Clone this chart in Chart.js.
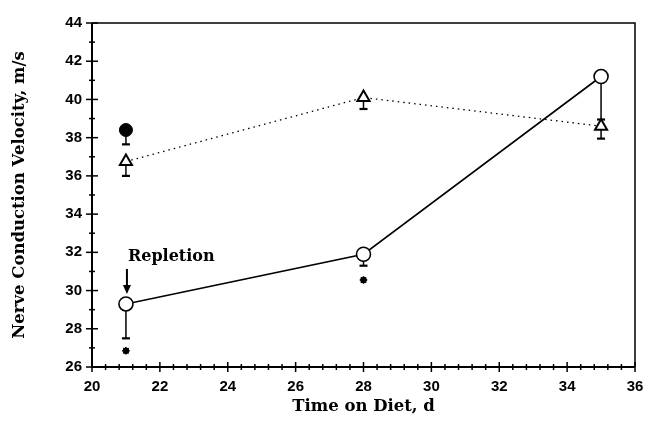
<!DOCTYPE html>
<html>
<head>
<meta charset="utf-8">
<script src="https://cdn.jsdelivr.net/npm/chart.js@4/dist/chart.umd.min.js"></script>
<style>
html,body{margin:0;padding:0;background:#fff;}
#wrap{width:648px;height:438px;position:relative;}
</style>
</head>
<body>
<div id="wrap"><canvas id="c" width="648" height="438"></canvas></div>
<script>
// ---- data ----
const days = [21, 28, 35];
const repletionValues = [29.3, 31.9, 41.2];      // open circles, solid line
const repletionLow = [27.5, 31.3, 38.95];        // lower error bar ends
const controlValues = [36.75, 40.1, 38.6];       // open triangles, dotted line
const controlLow = [36.0, 39.5, 37.95];
const baselineDay = [21];
const baselineValue = [38.4];                    // filled circle
const baselineLow = [37.65];
const starDays = [21, 28];
const starValues = [26.85, 30.55];               // asterisks (significance)
const xTicks = [20, 22, 24, 26, 28, 30, 32, 34, 36];
const yTicks = [26, 28, 30, 32, 34, 36, 38, 40, 42, 44];
const annotationText = 'Repletion';

const toPts = (xs, ys) => xs.map((x, i) => ({x: x, y: ys[i]}));

const serif = '"DejaVu Serif", serif';
const sans = '"Liberation Sans", Arial, sans-serif';

const decor = {
  id: 'decor',
  beforeDatasetsDraw(chart) {
    const {ctx, scales: {x, y}} = chart;
    ctx.save();
    ctx.strokeStyle = '#000';
    const bars = [[days, repletionValues, repletionLow], [days, controlValues, controlLow], [baselineDay, baselineValue, baselineLow]];
    bars.forEach(([xs, vs, lows]) => {
      xs.forEach((d, i) => {
        const px = x.getPixelForValue(d);
        const p0 = y.getPixelForValue(vs[i]);
        const p1 = y.getPixelForValue(lows[i]);
        ctx.lineWidth = 1.5;
        ctx.beginPath();
        ctx.moveTo(px, p0); ctx.lineTo(px, p1);
        ctx.stroke();
        ctx.lineWidth = 2.2;
        ctx.beginPath();
        ctx.moveTo(px - 4, p1); ctx.lineTo(px + 4, p1);
        ctx.stroke();
      });
    });
    ctx.restore();
  },
  afterDraw(chart) {
    const {ctx, chartArea: a, scales: {x, y}} = chart;
    ctx.save();
    ctx.strokeStyle = '#000';
    // frame
    ctx.lineWidth = 1.5;
    ctx.beginPath();
    ctx.moveTo(a.left, a.top); ctx.lineTo(a.right, a.top); ctx.lineTo(a.right, a.bottom);
    ctx.stroke();
    ctx.lineWidth = 2;
    ctx.beginPath();
    ctx.moveTo(a.left, a.top); ctx.lineTo(a.left, a.bottom); ctx.lineTo(a.right, a.bottom);
    ctx.stroke();
    // x ticks
    ctx.lineWidth = 1.5;
    for (let v = x.min; v <= x.max + 1e-6; v += 0.4) {
      const px = x.getPixelForValue(v);
      const major = Math.abs(v / 2 - Math.round(v / 2)) < 1e-6;
      const h = major ? 5 : 3;
      ctx.beginPath();
      ctx.moveTo(px, a.bottom - h); ctx.lineTo(px, a.bottom + h);
      ctx.stroke();
    }
    // y ticks
    for (let v = y.min; v <= y.max + 1e-6; v += 1) {
      const py = y.getPixelForValue(v);
      const major = v % 2 === 0;
      const w = major ? 6 : 3;
      ctx.beginPath();
      ctx.moveTo(a.left - w, py); ctx.lineTo(a.left + w, py);
      ctx.stroke();
    }
    // annotation
    const ax = x.getPixelForValue(days[0]);
    const ay = y.getPixelForValue(repletionValues[0]);
    ctx.lineWidth = 2;
    ctx.beginPath();
    ctx.moveTo(ax + 1, ay - 35); ctx.lineTo(ax + 1, ay - 16);
    ctx.stroke();
    ctx.fillStyle = '#000';
    ctx.beginPath();
    ctx.moveTo(ax - 3, ay - 19); ctx.lineTo(ax + 5, ay - 19); ctx.lineTo(ax + 1, ay - 10);
    ctx.closePath(); ctx.fill();
    ctx.font = 'bold 16px ' + serif;
    ctx.textBaseline = 'alphabetic';
    ctx.textAlign = 'left';
    ctx.fillText(annotationText, ax + 2, ay - 43);
    ctx.restore();
  }
};

new Chart(document.getElementById('c'), {
  type: 'scatter',
  data: {
    datasets: [
      {
        data: toPts(days, repletionValues), showLine: true,
        borderColor: '#000', borderWidth: 1.6,
        pointStyle: 'circle', pointRadius: 7, pointBorderWidth: 1.6,
        pointBackgroundColor: '#fff', pointBorderColor: '#000'
      },
      {
        data: toPts(days, controlValues), showLine: true,
        borderColor: '#000', borderWidth: 1.3, borderDash: [1.5, 4],
        pointStyle: 'triangle', pointRadius: 7, pointBorderWidth: 2,
        pointBackgroundColor: '#fff', pointBorderColor: '#000'
      },
      {
        data: toPts(baselineDay, baselineValue),
        pointStyle: 'circle', pointRadius: 6.5, pointBorderWidth: 1,
        pointBackgroundColor: '#000', pointBorderColor: '#000'
      },
      {
        data: toPts(starDays, starValues),
        pointStyle: 'circle', pointRadius: 2.8, pointBorderWidth: 1,
        pointBackgroundColor: '#000', pointBorderColor: '#000'
      },
      {
        data: toPts(starDays, starValues),
        pointStyle: 'star', pointRadius: 3.8, pointBorderWidth: 1.5,
        pointBackgroundColor: '#000', pointBorderColor: '#000'
      }
    ]
  },
  options: {
    responsive: false, animation: false,
    layout: {padding: {left: 0, right: 13, top: 23, bottom: 0}},
    plugins: {legend: {display: false}, tooltip: {enabled: false}},
    scales: {
      x: {
        type: 'linear', min: 20, max: 36,
        afterBuildTicks: s => { s.ticks = xTicks.map(v => ({value: v})); },
        afterFit: s => { s.height = 71; s.paddingLeft = 0; s.paddingRight = 0; },
        grid: {display: false, drawTicks: false},
        border: {display: false},
        ticks: {color: '#000', padding: 11, font: {family: sans, size: 15, weight: 'bold'}, maxRotation: 0},
        title: {display: true, text: 'Time on Diet, d', color: '#000',
          font: {family: serif, size: 16.5, weight: 'bold'}, padding: {top: 0, bottom: 21}}
      },
      y: {
        type: 'linear', min: 26, max: 44,
        afterBuildTicks: s => { s.ticks = yTicks.map(v => ({value: v})); },
        afterFit: s => { s.width = 92; s.paddingTop = 0; s.paddingBottom = 0; },
        grid: {display: false, drawTicks: false},
        border: {display: false},
        ticks: {color: '#000', padding: 10, font: {family: sans, size: 15, weight: 'bold'}},
        title: {display: true, text: 'Nerve Conduction Velocity, m/s', color: '#000',
          font: {family: serif, size: 16.5, weight: 'bold'}, padding: {top: 10, bottom: 0}}
      }
    }
  },
  plugins: [decor]
});
</script>
</body>
</html>
